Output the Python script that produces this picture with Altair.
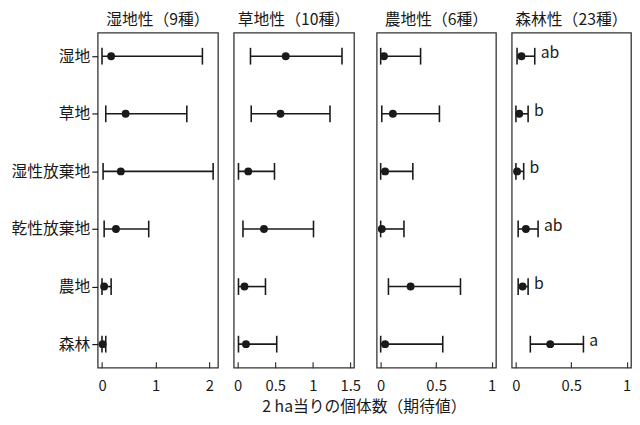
import altair as alt
import pandas as pd

cats = ["湿地", "草地", "湿性放棄地", "乾性放棄地", "農地", "森林"]
groups = ["湿地性（9種）", "草地性（10種）", "農地性（6種）", "森林性（23種）"]

# expected abundance per 2 ha: mean, lower, upper (per habitat in cats order)
wet_mean = [0.17, 0.44, 0.35, 0.26, 0.04, 0.01]
wet_lo = [0.00, 0.07, 0.02, 0.04, 0.00, 0.00]
wet_hi = [1.87, 1.58, 2.07, 0.87, 0.17, 0.07]

grass_mean = [0.64, 0.57, 0.14, 0.35, 0.09, 0.11]
grass_lo = [0.17, 0.18, 0.01, 0.07, 0.01, 0.01]
grass_hi = [1.39, 1.23, 0.49, 1.01, 0.37, 0.52]

farm_mean = [0.03, 0.11, 0.04, 0.01, 0.27, 0.04]
farm_lo = [0.00, 0.01, 0.00, 0.00, 0.07, 0.00]
farm_hi = [0.36, 0.53, 0.29, 0.21, 0.72, 0.56]

forest_mean = [0.05, 0.03, 0.01, 0.09, 0.06, 0.31]
forest_lo = [0.01, 0.00, 0.00, 0.02, 0.02, 0.13]
forest_hi = [0.17, 0.11, 0.07, 0.20, 0.11, 0.61]
forest_letters = ["ab", "b", "b", "ab", "b", "a"]

means = [wet_mean, grass_mean, farm_mean, forest_mean]
los = [wet_lo, grass_lo, farm_lo, forest_lo]
his = [wet_hi, grass_hi, farm_hi, forest_hi]
domains = [[-0.08, 2.16], [-0.053, 1.55], [-0.036, 1.04], [-0.038, 1.04]]
tick_values = [[0, 1, 2], [0, 0.5, 1, 1.5], [0, 0.5, 1], [0, 0.5, 1]]
widths = [122, 122, 121, 121]

FONT = "Noto Sans CJK JP"
INK = "#1a1a1a"


def panel(i):
    df = pd.DataFrame({
        "cat": cats,
        "mean": means[i],
        "lo": los[i],
        "hi": his[i],
        "lab": forest_letters if i == 3 else [""] * len(cats),
    })
    yaxis = alt.Axis(
        title=None, labelFontSize=16, labelFont=FONT, labelColor=INK,
        tickSize=6, tickColor=INK, tickWidth=1.2, domain=False,
        labelPadding=2, minExtent=90,
    ) if i == 0 else None
    y = alt.Y("cat:N", sort=cats, scale=alt.Scale(type="point", padding=0.41), axis=yaxis)
    xscale = alt.Scale(domain=domains[i], nice=False, zero=False)
    xaxis = alt.Axis(
        title=None, values=tick_values[i], format="~g", labelFontSize=15, labelFont=FONT,
        labelColor=INK, tickSize=6, tickColor="#333", tickWidth=1.2,
        domain=False, offset=-6, labelPadding=11, grid=False,
        labelFlush=False,
    )
    base = alt.Chart(df).encode(y=y)
    rule = base.mark_rule(strokeWidth=1.6, color=INK).encode(
        x=alt.X("lo:Q", scale=xscale, axis=xaxis), x2="hi:Q")
    cap_lo = base.mark_tick(size=17, thickness=1.6, color=INK, opacity=1).encode(
        x=alt.X("lo:Q", scale=xscale, axis=xaxis))
    cap_hi = base.mark_tick(size=17, thickness=1.6, color=INK, opacity=1).encode(
        x=alt.X("hi:Q", scale=xscale, axis=xaxis))
    pts = base.mark_point(filled=True, size=64, color=INK, opacity=1).encode(
        x=alt.X("mean:Q", scale=xscale, axis=xaxis))
    layers = [rule, cap_lo, cap_hi, pts]
    if i == 3:
        txt = base.mark_text(align="left", baseline="middle", dx=6, dy=-3,
                             fontSize=16, font=FONT, color=INK).encode(
            x=alt.X("hi:Q", scale=xscale, axis=xaxis), text="lab:N")
        layers.append(txt)
    return alt.layer(*layers).properties(
        width=widths[i], height=340,
        title=alt.TitleParams(groups[i], fontSize=16, font=FONT, fontWeight="normal",
                              color=INK, offset=5),
    )


chart = alt.hconcat(*[panel(i) for i in range(4)], spacing=14).properties(
    title=alt.TitleParams("2 ha当りの個体数（期待値）", orient="bottom", anchor="middle",
                          fontSize=16, font=FONT, fontWeight="normal", color=INK,
                          offset=5, dx=45),
).configure(
    background="white", padding=0,
    view=alt.ViewConfig(stroke="#333", strokeWidth=1.3),
)

chart.save("out.html", embed_options={"renderer": "svg", "actions": False})
